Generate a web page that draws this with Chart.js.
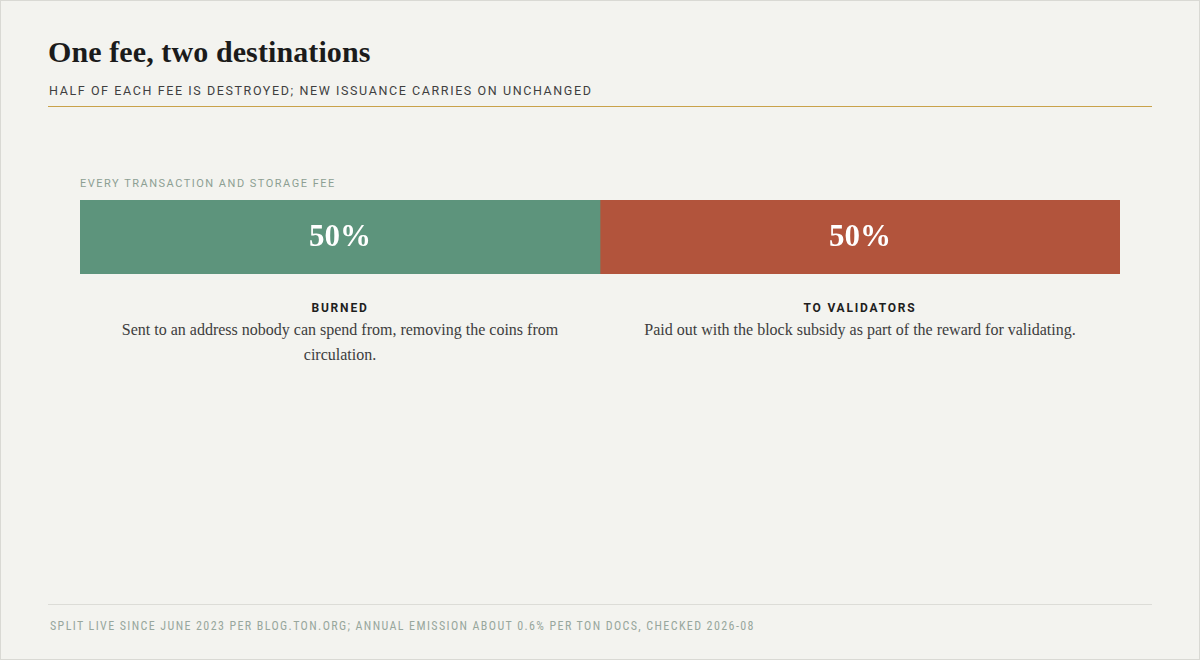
<!DOCTYPE html>
<html>
<head>
<meta charset="utf-8">
<script src="https://cdn.jsdelivr.net/npm/chart.js@4.4.0/dist/chart.umd.min.js"></script>
<style>
  html, body { margin: 0; padding: 0; }
  body {
    width: 1200px; height: 660px; background: #f3f3ef;
    position: relative; overflow: hidden;
  }
  .frame { position: absolute; left: 0; top: 0; width: 1198px; height: 658px; border: 1px solid #d9d9d4; }
  .title {
    position: absolute; left: 48px; top: 35px;
    font-family: "Liberation Serif", serif; font-weight: bold;
    font-size: 30px; color: #1b1b1b; letter-spacing: 0.1px;
  }
  .subtitle {
    position: absolute; left: 49px; top: 83px;
    font-family: Roboto, "Liberation Sans", sans-serif; font-size: 12.5px;
    letter-spacing: 1.6px; color: #3f3f3f;
  }
  .rule { position: absolute; left: 48px; width: 1104px; top: 106px; height: 1px; background: #c9a24a; }
  .kicker {
    position: absolute; left: 80px; top: 177px;
    font-family: Roboto, "Liberation Sans", sans-serif; font-size: 11px;
    letter-spacing: 1.5px; color: #8d9f93;
  }
  #wrap { position: absolute; left: 80px; top: 200px; width: 1040px; height: 74px; }
  .cols { position: absolute; left: 80px; top: 299px; width: 1040px; display: flex; }
  .col { flex: 1; text-align: center; padding: 0 28px; box-sizing: border-box; }
  .col h4 {
    margin: 0; font-family: Roboto, "Liberation Sans", sans-serif; font-weight: bold;
    font-size: 12px; letter-spacing: 1.8px; color: #1e1e1e; line-height: 18px;
  }
  .col p {
    margin: 0; font-family: "Liberation Serif", serif; font-size: 16px;
    line-height: 25px; color: #3d3d3d;
  }
  .frule { position: absolute; left: 48px; width: 1104px; top: 604px; height: 1px; background: #dcdcd7; }
  .footer {
    position: absolute; left: 50px; top: 619px;
    font-family: "Liberation Sans Narrow", "Roboto Condensed", Roboto, sans-serif; font-size: 12px;
    letter-spacing: 1.4px; color: #98a79d;
  }
</style>
</head>
<body>
<div class="frame"></div>
<div class="title">One fee, two destinations</div>
<div class="subtitle">HALF OF EACH FEE IS DESTROYED; NEW ISSUANCE CARRIES ON UNCHANGED</div>
<div class="rule"></div>
<div class="kicker">EVERY TRANSACTION AND STORAGE FEE</div>
<div id="wrap"><canvas id="split"></canvas></div>
<div class="cols" id="cols"></div>
<div class="frule"></div>
<div class="footer">SPLIT LIVE SINCE JUNE 2023 PER BLOG.TON.ORG; ANNUAL EMISSION ABOUT 0.6% PER TON DOCS, CHECKED 2026-08</div>

<script>
const category = ['Fee'];
const parts = ['BURNED', 'TO VALIDATORS'];
const shares = [50, 50];
const notes = [
    'Sent to an address nobody can spend from, removing the coins from circulation.',
    'Paid out with the block subsidy as part of the reward for validating.'
];
const colors = ['#5d947c', '#b2543c'];

const cols = document.getElementById('cols');
parts.forEach((name, i) => {
    const col = document.createElement('div');
    col.className = 'col';
    col.innerHTML = '<h4>' + name + '</h4><p>' + notes[i] + '</p>';
    cols.appendChild(col);
});

const shareLabels = {
    id: 'shareLabels',
    afterDatasetsDraw(chart) {
        const ctx = chart.ctx;
        ctx.save();
        ctx.fillStyle = '#ffffff';
        ctx.font = 'bold 31px "Liberation Serif", serif';
        ctx.textAlign = 'center';
        ctx.textBaseline = 'middle';
        chart.data.datasets.forEach((ds, i) => {
            chart.getDatasetMeta(i).data.forEach((bar, j) => {
                const p = bar.getProps(['x', 'y', 'base'], true);
                ctx.fillText(ds.data[j] + '%', (p.x + p.base) / 2, p.y + 1);
            });
        });
        ctx.restore();
    }
};

const canvas = document.getElementById('split');
const chart = new Chart(canvas, {
    type: 'bar',
    data: {
        labels: category,
        datasets: parts.map((name, i) => ({
            label: name,
            data: [shares[i]],
            backgroundColor: colors[i],
            borderWidth: 0,
            barPercentage: 1,
            categoryPercentage: 1
        }))
    },
    options: {
        indexAxis: 'y',
        responsive: true,
        maintainAspectRatio: false,
        animation: false,
        layout: { padding: 0 },
        plugins: { legend: { display: false }, tooltip: { enabled: false } },
        scales: {
            x: { stacked: true, min: 0, max: 100, display: false },
            y: { stacked: true, display: false }
        }
    },
    plugins: [shareLabels]
});
</script>
</body>
</html>
